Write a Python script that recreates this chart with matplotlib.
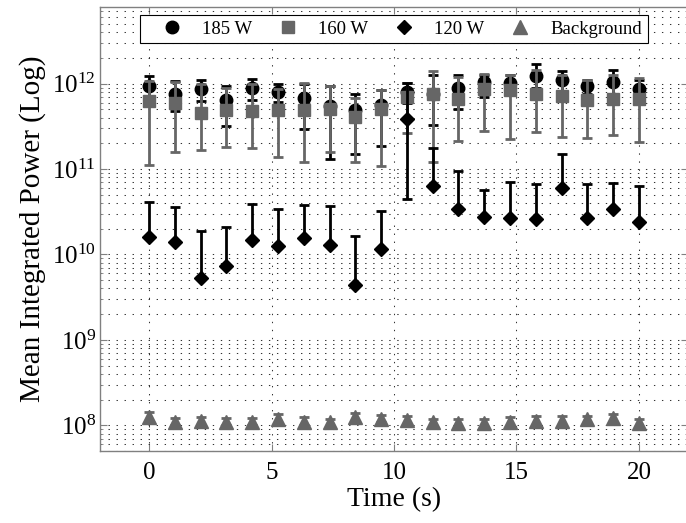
import matplotlib
matplotlib.use('Agg')
import matplotlib.pyplot as plt
import numpy as np
from matplotlib.lines import Line2D
from matplotlib.ticker import LogLocator, NullFormatter, FixedLocator

plt.rcParams['font.family'] = ['Liberation Serif', 'DejaVu Serif']
plt.rcParams['mathtext.fontset'] = 'custom'
plt.rcParams['mathtext.rm'] = 'Liberation Serif'
plt.rcParams['mathtext.it'] = 'Liberation Serif:italic'

# ---------------- data ----------------
time_s = [0.0, 1.05, 2.11, 3.16, 4.21, 5.26, 6.32, 7.37, 8.42, 9.47,
          10.53, 11.58, 12.63, 13.68, 14.74, 15.79, 16.84, 17.89, 18.95, 20.0]

# 185 W (units of 1e11)
w185_mean = [9.5, 7.6, 8.7, 6.4, 9.0, 8.0, 6.8, 5.5, 4.9, 5.6,
             8.0, 7.6, 9.0, 10.4, 10.2, 12.3, 10.9, 9.3, 10.4, 8.7]
w185_hi = [12.3, 10.7, 10.9, 9.4, 11.2, 9.8, 10.0, 9.3, 7.6, 8.4,
           10.2, 12.5, 12.8, 12.5, 12.5, 17.2, 13.9, 11.0, 14.3, 11.0]
w185_lo = [7.0, 4.8, 6.25, 3.16, 6.4, 6.1, 2.97, 1.3, 1.49, 1.85,
           6.0, 3.25, 5.1, 7.0, 7.5, 9.0, 8.0, 7.5, 7.5, 6.5]

# 160 W (units of 1e11)
w160_mean = [6.25, 6.0, 4.5, 4.9, 4.8, 4.9, 4.9, 5.1, 4.1, 5.1,
             6.9, 7.6, 6.7, 8.7, 8.5, 7.5, 7.1, 6.5, 6.7, 6.7]
w160_hi = [10.7, 10.6, 10.0, 9.0, 9.8, 8.7, 10.2, 9.3, 6.85, 8.4,
           10.2, 13.9, 12.0, 13.1, 12.8, 14.6, 12.5, 10.9, 12.5, 11.8]
w160_lo = [1.13, 1.58, 1.66, 1.81, 1.76, 1.38, 1.21, 1.6, 1.21, 1.08,
           2.64, 1.21, 2.13, 2.76, 2.27, 2.71, 2.37, 2.33, 2.53, 2.07]

# 120 W (units of 1e10)
w120_mean = [1.6, 1.4, 0.53, 0.73, 1.46, 1.26, 1.57, 1.28, 0.44, 1.15,
             39.0, 6.3, 3.44, 2.74, 2.67, 2.58, 6.05, 2.67, 3.37, 2.4]
w120_hi = [4.1, 3.6, 1.9, 2.1, 3.9, 3.4, 3.76, 3.66, 1.63, 3.2,
           102.0, 17.6, 9.5, 5.7, 7.05, 6.7, 14.9, 6.7, 6.9, 6.4]
w120_lo = [1.6, 1.4, 0.53, 0.73, 1.46, 1.26, 1.57, 1.28, 0.44, 1.15,
           4.5, 6.3, 3.44, 2.74, 2.67, 2.58, 6.05, 2.67, 3.37, 2.4]

# Background (units of 1e8)
bg_mean = [1.24, 1.10, 1.12, 1.10, 1.10, 1.17, 1.10, 1.08, 1.25, 1.20,
           1.14, 1.08, 1.06, 1.06, 1.10, 1.13, 1.13, 1.17, 1.23, 1.05]
bg_hi = [1.45, 1.22, 1.24, 1.22, 1.22, 1.36, 1.24, 1.20, 1.38, 1.32,
         1.27, 1.20, 1.20, 1.20, 1.24, 1.28, 1.27, 1.29, 1.35, 1.20]
bg_lo = [1.08, 1.00, 1.00, 1.00, 1.00, 1.02, 1.00, 0.98, 1.12, 1.08,
         1.02, 0.97, 0.94, 0.95, 0.98, 1.00, 1.00, 1.05, 1.10, 0.93]

labels = ['185 W', '160 W', '120 W', 'Background']
xticks = [0, 5, 10, 15, 20]

BLACK = '#000000'
GRAY = '#666666'

fig = plt.figure(figsize=(6.86, 5.23), dpi=100)
ax = fig.add_axes([100 / 686, 1 - 451 / 523, 588 / 686, 444 / 523])


def draw(mean, lo, hi, scale, color, marker, ms, z):
    m = np.array(mean) * scale
    l = np.array(lo) * scale
    h = np.array(hi) * scale
    ax.errorbar(time_s, m, yerr=[m - l, h - m], fmt=marker, color=color,
                mfc=color, mec=color, ms=ms, elinewidth=2.0, capsize=3.5,
                capthick=2.0, zorder=z)


draw(w185_mean, w185_lo, w185_hi, 1e11, BLACK, 'o', 9, 3)
draw(w160_mean, w160_lo, w160_hi, 1e11, GRAY, 's', 8, 4)
draw(w120_mean, w120_lo, w120_hi, 1e10, BLACK, 'D', 7, 5)
draw(bg_mean, bg_lo, bg_hi, 1e8, GRAY, '^', 10, 6)

ax.set_yscale('log')
ax.set_xlim(-2.0, 22.0)
ax.set_ylim(5e7, 7.9e12)
ax.set_xticks(xticks)
ax.set_xticklabels([str(t) for t in xticks])
ax.yaxis.set_major_locator(FixedLocator([1e8, 1e9, 1e10, 1e11, 1e12]))
ax.yaxis.set_minor_locator(LogLocator(base=10, subs=np.arange(2, 10), numticks=20))
ax.yaxis.set_minor_formatter(NullFormatter())

grid_kw = dict(color='#333333', linewidth=0.75, linestyle=(0, (1.3, 6.4)))
ax.grid(True, which='major', axis='both', **grid_kw)
ax.grid(True, which='minor', axis='y', **grid_kw)
ax.set_axisbelow(True)

for s in ax.spines.values():
    s.set_color('#808080')
    s.set_linewidth(1.0)
ax.tick_params(which='both', direction='in', top=True, right=True,
               color='#808080', labelsize=18, pad=8)
ax.tick_params(which='major', length=5)
ax.tick_params(which='minor', length=2.5)
ax.tick_params(axis='y', pad=3)

ax.set_xlabel('Time (s)', fontsize=20, labelpad=2)
ax.set_ylabel('Mean Integrated Power (Log)', fontsize=21, labelpad=4)

handles = [
    Line2D([], [], linestyle='none', marker='o', color=BLACK, ms=9),
    Line2D([], [], linestyle='none', marker='s', color=GRAY, ms=8),
    Line2D([], [], linestyle='none', marker='D', color=BLACK, ms=7),
    Line2D([], [], linestyle='none', marker='^', color=GRAY, ms=10),
]
leg = ax.legend(handles, labels, ncol=4, loc='upper left',
                bbox_to_anchor=(140 / 686, 1 - 15 / 523),
                bbox_transform=fig.transFigure, fontsize=13.5,
                frameon=True, fancybox=False, edgecolor='#000000',
                framealpha=1, handlelength=2.78, handletextpad=0.22,
                columnspacing=0.52, borderpad=0.3, borderaxespad=0)
leg.get_frame().set_linewidth(0.8)

fig.savefig('out.png', dpi=100)
